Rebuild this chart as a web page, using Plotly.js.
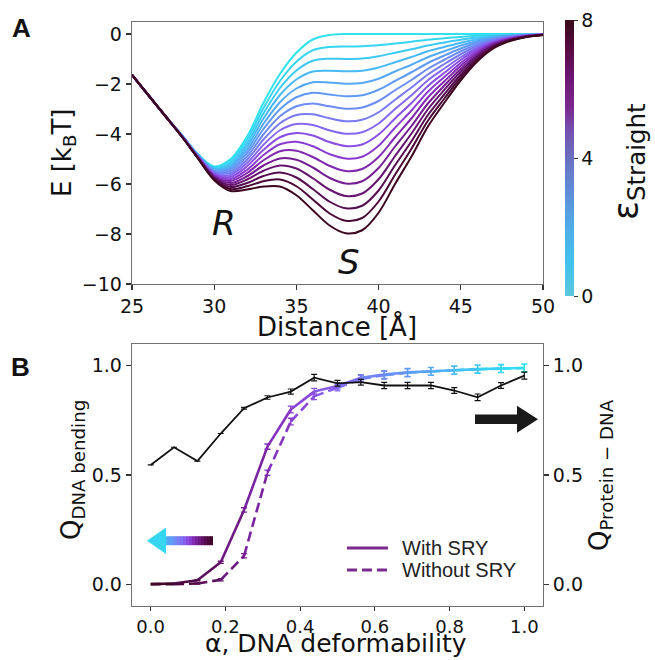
<!DOCTYPE html>
<html><head><meta charset="utf-8">
<script src="https://cdn.plot.ly/plotly-3.0.1.min.js"></script>
<style>html,body{margin:0;padding:0;background:#fff}</style>
</head><body><div id="plot" style="width:655px;height:660px"></div>
<script>
// ---------- Panel A data ----------
const distance = [25,26,27,28,29,30,31,32,33,34,35,36,37,38,39,40,41,42,43,44,45,46,47,48,49,50];
const epsilonValues = [0,0.5,1,1.5,2,2.5,3,3.5,4,4.5,5,5.5,6,6.5,7,7.5,8];
const E_eps0_0 = [-1.64,-2.45,-3.26,-4.02,-4.80,-5.30,-5.00,-4.10,-2.75,-1.60,-0.75,-0.22,-0.04,0,0,0,0,0,0,0,0,0,0,0,0,0];
const E_eps0_5 = [-1.64,-2.45,-3.26,-4.02,-4.81,-5.33,-5.08,-4.23,-2.96,-1.88,-1.11,-0.65,-0.52,-0.50,-0.49,-0.45,-0.38,-0.31,-0.23,-0.17,-0.12,-0.07,-0.04,-0.02,-0.01,0];
const E_eps1_0 = [-1.64,-2.45,-3.26,-4.03,-4.82,-5.37,-5.16,-4.37,-3.17,-2.16,-1.46,-1.07,-0.99,-1.00,-0.98,-0.89,-0.75,-0.61,-0.46,-0.34,-0.23,-0.14,-0.07,-0.04,-0.02,-0.01];
const E_eps1_5 = [-1.64,-2.45,-3.26,-4.03,-4.83,-5.40,-5.24,-4.50,-3.38,-2.44,-1.82,-1.50,-1.47,-1.49,-1.47,-1.34,-1.13,-0.92,-0.69,-0.52,-0.35,-0.21,-0.11,-0.05,-0.02,-0.01];
const E_eps2_0 = [-1.64,-2.45,-3.26,-4.04,-4.84,-5.44,-5.32,-4.63,-3.59,-2.73,-2.18,-1.93,-1.94,-1.99,-1.96,-1.79,-1.50,-1.23,-0.93,-0.69,-0.46,-0.28,-0.14,-0.07,-0.03,-0.01];
const E_eps2_5 = [-1.64,-2.45,-3.26,-4.04,-4.85,-5.47,-5.40,-4.76,-3.80,-3.01,-2.53,-2.35,-2.42,-2.49,-2.45,-2.23,-1.88,-1.53,-1.16,-0.86,-0.58,-0.34,-0.18,-0.09,-0.04,-0.01];
const E_eps3_0 = [-1.64,-2.45,-3.26,-4.04,-4.86,-5.51,-5.48,-4.90,-4.01,-3.29,-2.89,-2.78,-2.89,-2.99,-2.94,-2.68,-2.25,-1.84,-1.39,-1.03,-0.69,-0.41,-0.21,-0.11,-0.05,-0.02];
const E_eps3_5 = [-1.64,-2.45,-3.26,-4.05,-4.87,-5.54,-5.56,-5.03,-4.22,-3.57,-3.24,-3.21,-3.37,-3.49,-3.43,-3.13,-2.63,-2.14,-1.62,-1.20,-0.81,-0.48,-0.25,-0.12,-0.05,-0.02];
const E_eps4_0 = [-1.64,-2.45,-3.26,-4.05,-4.89,-5.58,-5.64,-5.16,-4.43,-3.85,-3.60,-3.64,-3.85,-3.99,-3.93,-3.58,-3.00,-2.45,-1.85,-1.38,-0.93,-0.55,-0.29,-0.14,-0.06,-0.02];
const E_eps4_5 = [-1.64,-2.45,-3.26,-4.05,-4.90,-5.61,-5.72,-5.29,-4.63,-4.13,-3.96,-4.06,-4.32,-4.48,-4.42,-4.02,-3.38,-2.76,-2.08,-1.55,-1.04,-0.62,-0.32,-0.16,-0.07,-0.02];
const E_eps5_0 = [-1.64,-2.45,-3.26,-4.06,-4.91,-5.64,-5.80,-5.43,-4.84,-4.41,-4.31,-4.49,-4.80,-4.98,-4.91,-4.47,-3.75,-3.06,-2.31,-1.72,-1.16,-0.69,-0.36,-0.18,-0.08,-0.03];
const E_eps5_5 = [-1.64,-2.45,-3.26,-4.06,-4.92,-5.68,-5.88,-5.56,-5.05,-4.69,-4.67,-4.92,-5.27,-5.48,-5.40,-4.92,-4.13,-3.37,-2.54,-1.89,-1.27,-0.76,-0.39,-0.19,-0.08,-0.03];
const E_eps6_0 = [-1.64,-2.45,-3.26,-4.07,-4.93,-5.71,-5.96,-5.69,-5.26,-4.98,-5.03,-5.34,-5.75,-5.98,-5.89,-5.36,-4.50,-3.68,-2.78,-2.06,-1.39,-0.83,-0.43,-0.21,-0.09,-0.03];
const E_eps6_5 = [-1.64,-2.45,-3.26,-4.07,-4.94,-5.75,-6.04,-5.82,-5.47,-5.26,-5.38,-5.77,-6.22,-6.48,-6.38,-5.81,-4.88,-3.98,-3.01,-2.23,-1.50,-0.89,-0.46,-0.23,-0.10,-0.03];
const E_eps7_0 = [-1.64,-2.45,-3.26,-4.07,-4.95,-5.78,-6.12,-5.96,-5.68,-5.54,-5.74,-6.20,-6.70,-6.97,-6.87,-6.26,-5.25,-4.29,-3.24,-2.41,-1.62,-0.96,-0.50,-0.25,-0.11,-0.04];
const E_eps7_5 = [-1.64,-2.45,-3.26,-4.08,-4.96,-5.82,-6.20,-6.09,-5.89,-5.82,-6.09,-6.62,-7.17,-7.47,-7.36,-6.70,-5.63,-4.59,-3.47,-2.58,-1.73,-1.03,-0.53,-0.26,-0.11,-0.04];
const E_eps8_0 = [-1.64,-2.45,-3.26,-4.08,-4.97,-5.85,-6.28,-6.22,-6.10,-6.10,-6.45,-7.05,-7.65,-7.97,-7.85,-7.15,-6.00,-4.90,-3.70,-2.75,-1.85,-1.10,-0.57,-0.28,-0.12,-0.04];
const energyCurves = [E_eps0_0,E_eps0_5,E_eps1_0,E_eps1_5,E_eps2_0,E_eps2_5,E_eps3_0,E_eps3_5,E_eps4_0,E_eps4_5,E_eps5_0,E_eps5_5,E_eps6_0,E_eps6_5,E_eps7_0,E_eps7_5,E_eps8_0];
const colorbarTicks = [0,4,8];

// ---------- Panel B data ----------
const alphaValues = [0,0.0625,0.125,0.1875,0.25,0.3125,0.375,0.4375,0.5,0.5625,0.625,0.6875,0.75,0.8125,0.875,0.9375,1.0];
const qBendWithSRY = [0,0.003,0.018,0.10,0.34,0.63,0.80,0.882,0.908,0.945,0.96,0.97,0.975,0.98,0.985,0.988,0.99];
const qBendWithSRYErr = [0,0,0.003,0.005,0.01,0.012,0.015,0.015,0.015,0.015,0.018,0.018,0.018,0.018,0.018,0.018,0.018];
const qBendWithoutSRY = [0,0,0.003,0.02,0.13,0.51,0.745,0.86,0.90,0.94,0.957,0.968,0.974,0.98,0.984,0.987,0.99];
const qBendWithoutSRYErr = [0,0,0.003,0.005,0.01,0.012,0.015,0.015,0.015,0.015,0.018,0.018,0.018,0.018,0.018,0.018,0.018];
const qProteinDNA = [0.546,0.627,0.564,0.69,0.806,0.855,0.882,0.946,0.92,0.925,0.91,0.91,0.91,0.887,0.856,0.91,0.955];
const qProteinDNAErr = [0,0,0,0,0.004,0.008,0.012,0.015,0.013,0.013,0.014,0.014,0.014,0.013,0.015,0.013,0.016];
const legendLabels = ['With SRY','Without SRY'];

// ---------- colours ----------
const lineScale = [[0,'#30e2ee'],[0.125,'#3ccaf4'],[0.25,'#55a8f6'],[0.375,'#6c8cf4'],[0.5,'#8468f0'],[0.5625,'#8a50e4'],[0.625,'#8a3cd0'],[0.6875,'#8028b0'],[0.75,'#741e92'],[0.8125,'#661470'],[0.875,'#560c50'],[0.9375,'#4a0836'],[1,'#3c0620']];
const barScale = [[0,'#5cc6dc'],[0.12,'#42c2ee'],[0.25,'#50ace8'],[0.38,'#5e8cd8'],[0.5,'#6a70c0'],[0.6,'#7650b0'],[0.68,'#7a2a8e'],[0.8,'#6a1470'],[0.9,'#560a40'],[1,'#3a0a18']];
function parseHex(h){h=h.replace('#','');return [parseInt(h.slice(0,2),16),parseInt(h.slice(2,4),16),parseInt(h.slice(4,6),16)];}
function colorAt(scale,t){
  t=Math.max(0,Math.min(1,t));
  for(let i=1;i<scale.length;i++){
    if(t<=scale[i][0]){
      const a=scale[i-1],b=scale[i];const f=(t-a[0])/((b[0]-a[0])||1);
      const ca=parseHex(a[1]),cb=parseHex(b[1]);
      return 'rgb('+ca.map((v,j)=>Math.round(v+(cb[j]-v)*f)).join(',')+')';
    }
  }
  return scale[scale.length-1][1];
}

const W=655,H=660;
const px=x=>x/W, py=y=>1-y/H;
const traces=[];
const legendColor='#7b2a8e';
const dashPattern='10px,5px';

// Panel A curves
energyCurves.forEach((ys,k)=>{
  traces.push({x:distance,y:ys,xaxis:'x',yaxis:'y',mode:'lines',
    line:{color:colorAt(lineScale,epsilonValues[k]/8),width:2,shape:'spline',smoothing:0.9},
    showlegend:false,hoverinfo:'skip'});
});
// colorbar carrier
traces.push({x:[null],y:[null],xaxis:'x',yaxis:'y',mode:'markers',showlegend:false,hoverinfo:'skip',
  marker:{color:[0],cmin:0,cmax:8,colorscale:barScale,showscale:true,
    colorbar:{x:px(565),xanchor:'left',xpad:0,ypad:0,y:py(158),yanchor:'middle',len:276/H,lenmode:'fraction',
      thickness:9,outlinewidth:0,tickvals:colorbarTicks,ticktext:colorbarTicks.map(String),ticks:'outside',ticklen:4,
      tickcolor:'#333',tickfont:{family:'DejaVu Sans',size:19,color:'#111'}}}});

// Panel B gradient segments
function addSeries(ys,errs,dash){
  for(let i=0;i<alphaValues.length-1;i++){
    const mid=(alphaValues[i]+alphaValues[i+1])/2;
    traces.push({x:[alphaValues[i],alphaValues[i+1]],y:[ys[i],ys[i+1]],xaxis:'x2',yaxis:'y2',mode:'lines',
      line:{color:colorAt(lineScale,1-mid),width:2.6,dash:dash},showlegend:false,hoverinfo:'skip'});
  }
  for(let i=0;i<alphaValues.length;i++){
    if(!errs[i]) continue;
    traces.push({x:[alphaValues[i]],y:[ys[i]],xaxis:'x2',yaxis:'y2',mode:'lines',showlegend:false,hoverinfo:'skip',
      error_y:{type:'data',array:[errs[i]],color:colorAt(lineScale,1-alphaValues[i]),thickness:1.3,width:3}});
  }
}
addSeries(qBendWithoutSRY,qBendWithoutSRYErr,dashPattern);
addSeries(qBendWithSRY,qBendWithSRYErr,'solid');
// protein-DNA
traces.push({x:alphaValues,y:qProteinDNA,xaxis:'x2',yaxis:'y3',mode:'lines',line:{color:'#111',width:1.8},
  error_y:{type:'data',array:qProteinDNAErr,color:'#111',thickness:1.2,width:3},showlegend:false,hoverinfo:'skip'});

// shapes: arrows + legend samples
const shapes=[];
const shaftL=165,shaftR=213,shaftT=536.2,shaftB=545.2,N=16;
for(let i=0;i<N;i++){
  const x0=shaftL+(shaftR-shaftL)*i/N,x1=shaftL+(shaftR-shaftL)*(i+1)/N+0.6;
  const t=0.2+0.8*(i+0.5)/N;
  shapes.push({type:'rect',xref:'paper',yref:'paper',x0:px(x0),x1:px(Math.min(x1,shaftR)),y0:py(shaftB),y1:py(shaftT),
    fillcolor:colorAt(lineScale,t),line:{width:0}});
}
shapes.push({type:'path',xref:'paper',yref:'paper',
  path:`M${px(147)},${py(540.7)} L${px(166)},${py(527.5)} L${px(166)},${py(554)} Z`,
  fillcolor:colorAt(lineScale,0.06),line:{width:0}});
shapes.push({type:'rect',xref:'paper',yref:'paper',x0:px(475),x1:px(518),y0:py(424),y1:py(414.6),fillcolor:'#1a1a1a',line:{width:0}});
shapes.push({type:'path',xref:'paper',yref:'paper',
  path:`M${px(517)},${py(405.8)} L${px(538)},${py(419.3)} L${px(517)},${py(432.8)} Z`,fillcolor:'#1a1a1a',line:{width:0}});
// legend samples
shapes.push({type:'line',xref:'paper',yref:'paper',x0:px(347),x1:px(388),y0:py(548),y1:py(548),line:{color:legendColor,width:2.8}});
shapes.push({type:'line',xref:'paper',yref:'paper',x0:px(347),x1:px(388),y0:py(570),y1:py(570),line:{color:legendColor,width:2.8,dash:dashPattern}});

const tickFont={family:'DejaVu Sans',size:19,color:'#111'};
const axBase={ticks:'outside',ticklen:5,tickwidth:1.2,tickcolor:'#333',showline:true,linecolor:'#707070',linewidth:1.3,
  showgrid:false,zeroline:false,tickfont:tickFont};
const ann=(text,x,y,size,extra)=>Object.assign({text:text,x:px(x),y:py(y),xref:'paper',yref:'paper',showarrow:false,
  xanchor:'center',yanchor:'middle',font:{family:'DejaVu Sans',size:size,color:'#111'}},extra||{});
const legFont={family:'Liberation Sans, Arial, sans-serif',size:20,color:'#222'};

const layout={
  width:W,height:H,margin:{l:0,r:0,t:0,b:0},paper_bgcolor:'#fff',plot_bgcolor:'#fff',
  font:{family:'DejaVu Sans',color:'#111'},showlegend:false,
  xaxis:Object.assign({},axBase,{domain:[px(132),px(543)],range:[25,50],tickvals:[25,30,35,40,45,50],anchor:'y',mirror:true}),
  yaxis:Object.assign({},axBase,{domain:[py(284),py(22)],range:[-10,0.48],tickvals:[0,-2,-4,-6,-8,-10],anchor:'x',mirror:true}),
  xaxis2:Object.assign({},axBase,{domain:[px(132),px(543)],range:[-0.05,1.05],tickvals:[0,0.2,0.4,0.6,0.8,1.0],tickformat:'.1f',anchor:'y2',mirror:true,ticklen:4,
    tickfont:{family:'DejaVu Sans',size:18,color:'#111'}}),
  yaxis2:Object.assign({},axBase,{domain:[py(606),py(344)],range:[-0.1,1.1],tickvals:[0,0.5,1.0],tickformat:'.1f',anchor:'x2',mirror:true}),
  yaxis3:Object.assign({},axBase,{overlaying:'y2',side:'right',anchor:'x2',range:[-0.1,1.1],tickvals:[0,0.5,1.0],tickformat:'.1f',showline:false}),
  shapes:shapes,
  annotations:[
    ann('<b>A</b>',21,28,26,{font:{family:'Liberation Sans, Arial',size:26,color:'#111'}}),
    ann('<b>B</b>',20,367,26,{font:{family:'Liberation Sans, Arial',size:26,color:'#111'}}),
    ann('<i>R</i>',224,223,34),
    ann('<i>S</i>',349,262,34),
    ann('E [k<sub>B</sub>T]',63,153,26,{textangle:-90}),
    ann('Distance [Å]',337,326,26),
    ann('ε<sub>Straight</sub>',628,162,35,{textangle:-90}),
    ann('α, DNA deformability',336,660,25,{yanchor:'bottom'}),
    ann('Q<sub>DNA bending</sub>',72,470,26,{textangle:-90}),
    ann('Q<sub>Protein − DNA</sub>',600,475,26,{textangle:-90}),
    ann(legendLabels[0],400,548,20,{xanchor:'left',font:legFont}),
    ann(legendLabels[1],400,570,20,{xanchor:'left',font:legFont})
  ]
};
Plotly.newPlot('plot',traces,layout,{staticPlot:true,displayModeBar:false});
</script></body></html>
